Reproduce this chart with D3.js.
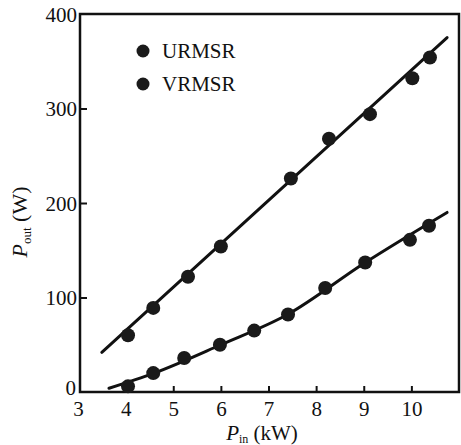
<!DOCTYPE html>
<html><head><meta charset="utf-8">
<script src="https://cdn.jsdelivr.net/npm/d3@7"></script>
<style>body{margin:0;background:#fff}svg{display:block}text{font-family:"Liberation Serif","DejaVu Serif",serif;fill:#111}</style>
</head><body>
<script>
const xTicks = [3,4,5,6,7,8,9,10];
const yTicks = [0,100,200,300,400];
const seriesNames = ["URMSR","VRMSR"];
const upperX = [4.05,4.58,5.31,6.0,7.47,8.27,9.13,10.02,10.39];
const upperY = [60,89,122,154,226,268,294,332,354];
const lowerX = [4.05,4.58,5.23,5.98,6.7,7.41,8.19,9.03,9.97,10.37];
const lowerY = [6,20,36,50,65,82,110,137,161,176];
const upperFitX = [3.5,10.75];
const upperFitY = [42,375];
const lowerFitX = [3.65,4.6,6.0,7.4,9.0,10.75];
const lowerFitY = [4,20,50,82,136,190];

const W=461,H=445;
const svg=d3.select("body").append("svg").attr("width",W).attr("height",H);
const x=d3.scaleLinear().domain([3,11]).range([78,459]);
const y=d3.scaleLinear().domain([0,400]).range([392,14]);
const ink="#111";

svg.append("rect").attr("x",80).attr("y",14).attr("width",459-80).attr("height",392-14)
  .attr("fill","none").attr("stroke",ink).attr("stroke-width",2.5);

const xa=d3.axisBottom(x).tickValues(xTicks).tickSize(-6).tickPadding(9).tickFormat(d3.format("d"));
const gx=svg.append("g").attr("transform","translate(0,392)").call(xa);
gx.select(".domain").remove();
gx.selectAll(".tick line").attr("stroke",ink).attr("stroke-width",2);
gx.selectAll(".tick").filter(d=>d===3).select("line").remove();
gx.selectAll("text").attr("font-size",21).attr("fill",ink).attr("font-family","Liberation Serif");

const ya=d3.axisLeft(y).tickValues(yTicks).tickSize(-7).tickPadding(3).tickFormat(d3.format("d"));
const gy=svg.append("g").attr("transform","translate(80,0)").call(ya);
gy.select(".domain").remove();
gy.selectAll(".tick line").attr("stroke",ink).attr("stroke-width",2);
gy.selectAll(".tick").filter(d=>d===0||d===400).select("line").remove();
gy.selectAll("text").attr("font-size",21).attr("fill",ink).attr("font-family","Liberation Serif").attr("dy","0.35em");
gy.selectAll(".tick").filter(d=>d===0).select("text").attr("dy","0.1em").attr("x",-4);

svg.append("path").datum(d3.zip(upperFitX,upperFitY)).attr("d",d3.line().x(d=>x(d[0])).y(d=>y(d[1])))
  .attr("fill","none").attr("stroke",ink).attr("stroke-width",3).attr("stroke-linecap","round");
svg.append("path").datum(d3.zip(lowerFitX,lowerFitY)).attr("d",d3.line().x(d=>x(d[0])).y(d=>y(d[1])).curve(d3.curveMonotoneX))
  .attr("fill","none").attr("stroke",ink).attr("stroke-width",3).attr("stroke-linecap","round");

[[upperX,upperY],[lowerX,lowerY]].forEach(([xs,ys])=>{
  svg.append("g").selectAll("circle").data(d3.zip(xs,ys)).join("circle")
    .attr("cx",d=>x(d[0])).attr("cy",d=>y(d[1])).attr("r",7).attr("fill","#1a1a1a");
});

const lg=svg.append("g");
seriesNames.forEach((n,i)=>{
  lg.append("circle").attr("cx",143).attr("cy",51+i*33).attr("r",6.5).attr("fill","#1a1a1a");
  lg.append("text").attr("x",162).attr("y",51+i*33).attr("dy","0.35em").attr("font-size",21).text(n);
});

const xt=svg.append("text").attr("x",262).attr("y",440).attr("text-anchor","middle").attr("font-size",21);
xt.append("tspan").attr("font-style","italic").text("P");
xt.append("tspan").attr("font-size",12).attr("dy",3).text("in");
xt.append("tspan").attr("dy",-3).text(" (kW)");

const yt=svg.append("text").attr("transform","translate(27,222) rotate(-90)").attr("text-anchor","middle").attr("font-size",22);
yt.append("tspan").attr("font-style","italic").text("P");
yt.append("tspan").attr("font-size",13).attr("dy",4).text("out");
yt.append("tspan").attr("dy",-4).text(" (W)");
</script>
</body></html>
